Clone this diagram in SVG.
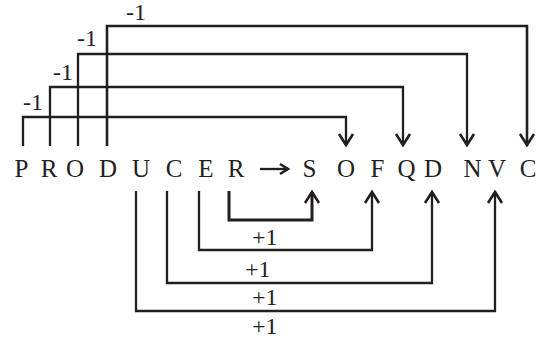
<svg xmlns="http://www.w3.org/2000/svg" width="543" height="344" viewBox="0 0 543 344">
<style>
.t{font-family:"Liberation Serif","Times New Roman",serif;font-size:25px;fill:#231f20;text-anchor:middle}
.l{font-family:"Liberation Serif","Times New Roman",serif;font-size:24px;fill:#231f20}
.c{fill:none;stroke:#231f20;stroke-width:2.3;stroke-linejoin:miter}
.h{fill:none;stroke:#231f20;stroke-width:2.6;stroke-linejoin:miter}
</style>
<defs>
<marker id="ah" markerUnits="userSpaceOnUse" markerWidth="20" markerHeight="20" viewBox="-14 -10 20 20" refX="0" refY="0" orient="auto">
<path d="M-11,-7 L0,0 L-11,7" class="h"/>
</marker>
<marker id="sa" markerUnits="userSpaceOnUse" markerWidth="16" markerHeight="16" viewBox="-12 -8 16 16" refX="0" refY="0" orient="auto">
<path d="M-8,-5 L0,0 L-8,5" class="h"/>
</marker>
</defs>
<g id="word">
<text class="t" x="21.5" y="177">P</text>
<text class="t" x="49" y="177">R</text>
<text class="t" x="75" y="177">O</text>
<text class="t" x="108" y="177">D</text>
<text class="t" x="141" y="177">U</text>
<text class="t" x="174" y="177">C</text>
<text class="t" x="206" y="177">E</text>
<text class="t" x="236" y="177">R</text>
<text class="t" x="309.5" y="177">S</text>
<text class="t" x="346" y="177">O</text>
<text class="t" x="377.5" y="177">F</text>
<text class="t" x="406.5" y="177">Q</text>
<text class="t" x="433" y="177">D</text>
<text class="t" x="472.5" y="177">N</text>
<text class="t" x="497" y="177">V</text>
<text class="t" x="528" y="177">C</text>
</g>
<g id="labels">
<text class="l" x="126" y="19.5">-1</text>
<text class="l" x="77" y="46">-1</text>
<text class="l" x="53" y="80">-1</text>
<text class="l" x="23" y="110">-1</text>
<text class="l" x="252" y="245">+1</text>
<text class="l" x="245" y="277">+1</text>
<text class="l" x="252" y="305">+1</text>
<text class="l" x="252" y="334">+1</text>
</g>
<g id="connectors">
<path class="c" d="M260,169 H288" marker-end="url(#sa)"/>
<path class="c" d="M107,146 V26 H527 V145" marker-end="url(#ah)" style="stroke-width:2.6"/>
<path class="c" d="M78,146 V54 H467 V145" marker-end="url(#ah)"/>
<path class="c" d="M50,146 V87 H403 V145" marker-end="url(#ah)"/>
<path class="c" d="M23,146 V117 H346 V145" marker-end="url(#ah)"/>
<path class="c" d="M229,191 V220 H312 V192" marker-end="url(#ah)" style="stroke-width:3"/>
<path class="c" d="M199,191 V250 H372 V192" marker-end="url(#ah)"/>
<path class="c" d="M167,191 V283 H432 V192" marker-end="url(#ah)"/>
<path class="c" d="M136,191 V311 H495 V192" marker-end="url(#ah)"/>
</g>
</svg>
